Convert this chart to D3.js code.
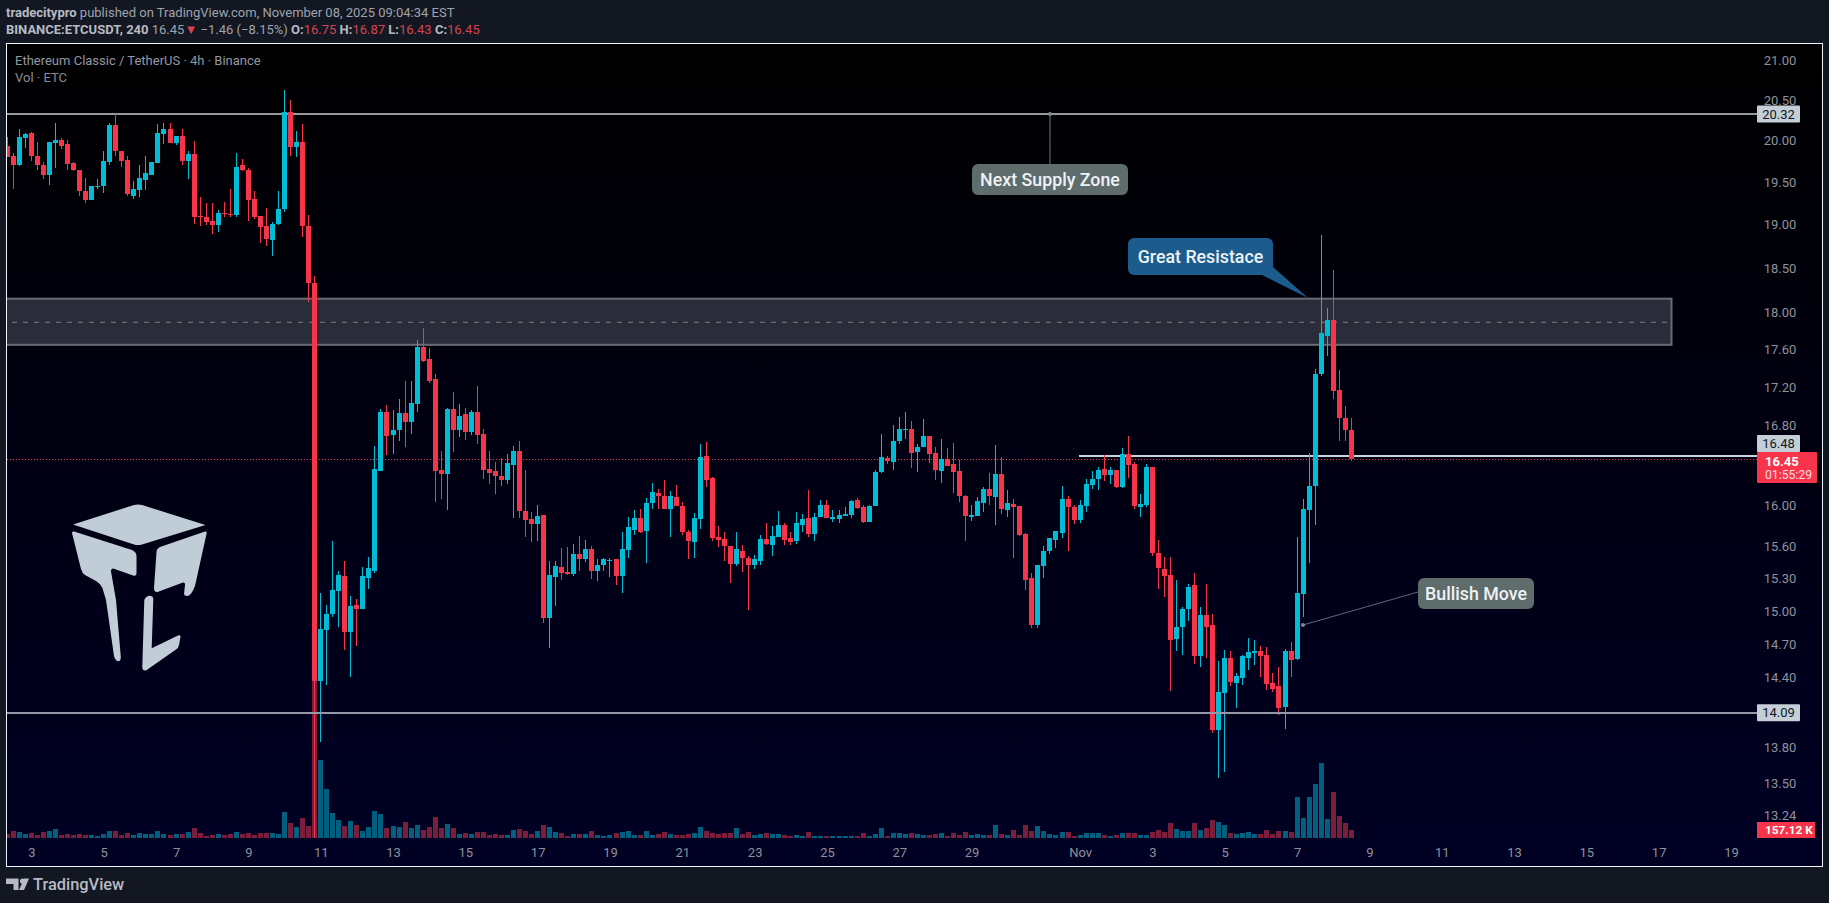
<!DOCTYPE html>
<html>
<head>
<meta charset="utf-8">
<title>BINANCE:ETCUSDT 240</title>
<script src="https://cdn.jsdelivr.net/npm/d3@7"></script>
<style>
html, body { margin: 0; padding: 0; background: #131722; overflow: hidden; }
svg { display: block; font-family: Roboto, sans-serif; }
</style>
</head>
<body>
<svg id="chart" width="1829" height="903"></svg>
<script>
// 4h bars, first one on Oct 2 08:00 UTC
var firstBar = Date.UTC(2025, 9, 2, 8);
var barStep = 4 * 3600 * 1000;

var opens = [
19.93,19.80,19.70,20.02,20.09,19.81,19.70,19.57,19.96,20.00,
19.95,19.72,19.64,19.38,19.28,19.44,19.44,19.73,20.18,19.87,
19.76,19.33,19.40,19.52,19.58,19.72,20.07,20.13,19.96,20.05,
19.75,19.83,19.09,19.08,19.03,18.99,19.13,19.12,19.10,19.69,
19.64,19.29,19.09,18.97,18.81,19.00,19.17,20.34,19.91,19.98,
18.98,18.33,14.37,14.82,14.97,15.18,15.32,14.80,15.05,15.01,
15.30,15.37,16.33,16.93,16.70,16.75,16.92,16.83,17.02,17.62,
17.49,17.28,16.34,16.30,16.97,16.75,16.91,16.73,16.93,16.71,
16.35,16.33,16.28,16.24,16.39,16.54,15.94,15.86,15.81,15.90,
14.93,15.31,15.40,15.36,15.34,15.53,15.48,15.57,15.37,15.42,
15.46,15.48,15.32,15.56,15.76,15.87,15.75,16.02,16.12,16.09,
15.96,16.08,15.99,15.74,15.64,15.86,16.48,16.26,15.69,15.67,
15.60,15.43,15.55,15.49,15.42,15.46,15.67,15.61,15.69,15.80,
15.68,15.65,15.80,15.87,15.72,15.88,16.00,15.86,15.86,15.89,
15.90,16.05,15.98,15.83,15.99,16.32,16.46,16.42,16.64,16.75,
16.76,16.53,16.58,16.69,16.52,16.33,16.45,16.40,16.33,16.09,
15.88,15.89,16.02,16.16,16.08,16.30,15.95,16.01,15.99,15.72,
15.30,14.87,15.41,15.55,15.66,15.73,16.06,15.98,15.85,15.99,
16.20,16.25,16.35,16.29,16.34,16.18,16.51,16.40,15.98,16.00,
16.37,15.54,15.38,15.33,14.74,14.85,15.01,15.23,14.59,14.96,
14.87,13.94,14.26,14.57,14.35,14.39,14.57,14.61,14.63,14.60,
14.35,14.32,14.14,14.63,14.56,15.15,15.95,16.19,17.33,17.74,
17.92,17.16,16.87,16.75];

var highs = [
20.04,19.84,20.13,20.08,20.10,19.98,19.73,19.98,20.21,20.02,
20.00,19.73,19.64,19.54,19.45,19.53,19.87,20.21,20.33,19.87,
19.81,19.51,19.69,19.80,19.73,20.19,20.21,20.21,20.05,20.13,
19.87,19.99,19.31,19.24,19.24,19.16,19.26,19.41,19.84,19.77,
19.66,19.38,19.09,19.19,19.02,19.38,20.62,20.50,20.11,20.19,
19.10,18.40,15.16,15.05,15.65,15.37,15.46,15.13,15.10,15.40,
15.50,16.59,16.97,17.01,16.96,17.07,17.26,17.26,17.70,17.83,
17.61,17.33,16.54,16.98,17.14,17.02,16.98,16.96,17.21,16.76,
16.54,16.42,16.46,16.51,16.59,16.64,16.34,15.93,16.00,15.90,
15.46,15.46,15.58,15.59,15.62,15.70,15.66,15.60,15.48,15.49,
15.49,15.48,15.74,15.88,15.95,15.96,16.07,16.22,16.16,16.24,
16.14,16.20,16.03,15.76,15.92,16.61,16.63,16.27,15.79,15.74,
15.60,15.74,15.61,15.51,15.52,15.71,15.82,15.79,15.94,15.82,
15.74,15.93,15.91,16.15,15.92,16.05,16.05,15.95,15.95,15.98,
16.05,16.07,16.00,16.00,16.34,16.71,16.49,16.80,16.88,16.93,
16.84,16.61,16.86,16.69,16.58,16.66,16.57,16.62,16.44,16.10,
16.00,16.08,16.18,16.31,16.60,16.47,16.15,16.06,15.99,15.73,
15.35,15.42,15.60,15.68,15.75,16.19,16.09,16.00,16.05,16.25,
16.33,16.37,16.50,16.37,16.34,16.57,16.69,16.42,16.11,16.40,
16.37,15.66,15.50,15.50,15.28,15.03,15.24,15.35,15.03,15.24,
14.97,14.54,14.64,14.63,14.44,14.60,14.75,14.73,14.68,14.67,
14.44,14.49,14.65,14.71,15.69,16.06,16.52,17.39,18.87,18.05,
18.47,17.37,17.00,16.87];

var lows = [
19.79,19.41,19.68,19.90,19.74,19.63,19.53,19.46,19.66,19.89,
19.64,19.62,19.33,19.24,19.28,19.41,19.36,19.70,19.81,19.67,
19.33,19.29,19.32,19.40,19.58,19.72,19.95,19.96,19.94,19.69,
19.53,19.00,18.97,18.99,18.88,18.91,19.08,19.08,19.08,19.62,
19.03,19.06,18.78,18.74,18.63,18.99,19.14,19.81,19.79,18.85,
18.11,13.05,13.84,14.33,14.94,14.85,14.64,14.40,14.68,15.01,
15.20,15.35,16.33,16.50,16.51,16.64,16.58,16.71,16.93,17.46,
17.24,16.03,16.06,15.95,16.53,16.68,16.65,16.70,16.61,16.25,
16.21,16.11,16.19,16.21,15.87,15.87,15.69,15.64,15.65,14.88,
14.66,15.04,15.28,15.33,15.32,15.37,15.45,15.29,15.27,15.37,
15.31,15.23,15.16,15.49,15.71,15.73,15.44,15.96,15.96,15.96,
15.69,15.99,15.71,15.48,15.49,15.77,16.18,15.65,15.59,15.46,
15.25,15.41,15.36,15.00,15.38,15.42,15.61,15.51,15.69,15.61,
15.61,15.62,15.74,15.69,15.65,15.88,15.87,15.83,15.82,15.89,
15.87,15.96,15.82,15.83,15.99,16.31,16.40,16.34,16.61,16.66,
16.36,16.32,16.58,16.41,16.24,16.22,16.38,16.12,16.03,15.65,
15.84,15.89,15.93,16.00,15.80,15.91,15.88,15.49,15.70,15.19,
14.84,14.84,15.30,15.53,15.58,15.68,15.55,15.81,15.82,15.93,
16.16,16.15,16.23,16.21,16.17,16.17,16.26,15.96,15.88,15.98,
15.51,15.20,15.12,14.28,14.63,14.60,14.90,14.52,14.49,14.57,
13.92,13.54,13.59,14.32,14.13,14.33,14.46,14.51,14.40,14.29,
14.27,14.07,13.95,14.40,14.55,14.94,15.44,15.80,17.31,17.53,
17.07,16.64,16.64,16.43];

var closes = [
19.79,19.70,20.04,20.07,19.80,19.69,19.57,19.98,20.00,19.93,
19.71,19.63,19.38,19.28,19.45,19.45,19.75,20.18,19.87,19.75,
19.35,19.41,19.54,19.60,19.73,20.08,20.13,19.96,20.05,19.75,
19.83,19.08,19.08,19.02,18.99,19.13,19.12,19.10,19.67,19.63,
19.28,19.08,18.96,18.82,19.00,19.17,20.34,19.91,19.98,18.97,
18.32,14.37,14.83,14.97,15.19,15.33,14.80,15.04,15.01,15.32,
15.39,16.35,16.93,16.69,16.75,16.92,16.83,17.03,17.62,17.47,
17.26,16.33,16.30,16.97,16.75,16.89,16.73,16.93,16.70,16.34,
16.31,16.28,16.24,16.41,16.54,15.94,15.85,15.81,15.89,14.93,
15.33,15.41,15.35,15.34,15.53,15.48,15.57,15.37,15.42,15.48,
15.47,15.32,15.57,15.78,15.87,15.74,16.02,16.13,16.09,15.96,
16.09,15.99,15.74,15.65,15.87,16.47,16.24,15.68,15.66,15.60,
15.43,15.57,15.49,15.42,15.48,15.67,15.62,15.70,15.80,15.66,
15.64,15.82,15.86,15.72,15.88,16.00,15.87,15.88,15.90,15.91,
16.04,15.97,15.83,15.99,16.32,16.47,16.43,16.64,16.76,16.76,
16.52,16.58,16.69,16.51,16.34,16.45,16.38,16.32,16.09,15.89,
15.90,16.04,16.16,16.09,16.30,15.96,16.02,15.98,15.71,15.28,
14.87,15.42,15.55,15.68,15.75,16.06,15.98,15.85,16.00,16.21,
16.25,16.34,16.29,16.34,16.18,16.51,16.39,15.99,16.01,16.37,
15.54,15.39,15.32,14.73,14.85,15.01,15.22,14.59,14.96,14.85,
13.94,14.27,14.57,14.36,14.41,14.59,14.62,14.63,14.59,14.34,
14.30,14.13,14.63,14.55,15.16,15.96,16.19,17.33,17.77,17.92,
17.15,16.87,16.75,16.45];

// volume in thousands of ETC
var volumes = [
79,137,118,79,98,59,118,137,177,59,
79,59,79,59,59,39,79,137,137,59,
98,59,98,79,79,137,79,59,79,79,
118,196,98,39,59,79,59,79,118,79,
98,59,98,98,98,79,511,295,216,393,
236,3142,1532,962,491,354,236,334,255,137,
216,530,471,196,236,216,314,196,255,157,
216,412,196,275,196,79,98,79,118,118,
59,79,59,59,157,177,137,79,137,255,
216,118,98,39,79,79,79,137,59,39,
59,98,118,137,59,59,137,59,79,118,
79,59,59,79,98,216,137,98,79,98,
98,196,79,118,59,79,98,79,79,59,
39,59,39,118,39,39,39,39,39,39,
39,39,98,39,79,196,39,98,98,79,
98,79,59,59,79,98,39,98,59,118,
59,79,59,59,255,79,59,157,59,255,
137,236,137,79,59,118,118,39,59,98,
98,98,59,39,59,98,98,98,59,59,
118,157,118,295,177,137,137,295,157,196,
354,314,255,98,79,98,118,79,79,157,
79,137,137,118,805,393,805,1061,1473,373,
903,432,295,157.12];

var priceTicks = [21, 20.5, 20, 19.5, 19, 18.5, 18, 17.6, 17.2, 16.8, 16, 15.6, 15.3, 15, 14.7, 14.4, 13.8, 13.5, 13.24];
var octDays = [3, 5, 7, 9, 11, 13, 15, 17, 19, 21, 23, 25, 27, 29];
var novDays = [1, 3, 5, 7, 9, 11, 13, 15, 17, 19];

var levelTop = 20.32, levelMid = 16.48, levelLow = 14.09, lastPrice = 16.45;
var zoneHigh = 18.15, zoneCentre = 17.89, zoneLow = 17.645;

var UP = "#00bcd4", DOWN = "#f7344a", UP_VOL = "#01607f", DOWN_VOL = "#7c1d3b";
var TICK = "#8f929a", TAG = "#c3ced6", PANEL = "#131722";

var svg = d3.select("#chart");

var x = d3.scaleUtc()
    .domain([new Date(Date.UTC(2025, 9, 3)), new Date(Date.UTC(2025, 10, 8, 12))])
    .range([31.4, 1351.3]);
// the price pane is logarithmic
var y = d3.scaleLog().domain([levelTop, levelLow]).range([114, 712.7]);
var yVol = d3.scaleLinear().domain([0, 157.12]).range([838, 830]);

var bars = opens.map(function (o, i) {
    return {
        t: new Date(firstBar + i * barStep),
        o: o, h: highs[i], l: lows[i], c: closes[i], v: volumes[i],
        up: closes[i] >= o
    };
});

// background
var defs = svg.append("defs");
var grad = defs.append("linearGradient").attr("id", "paneBg").attr("x1", 0).attr("y1", 0).attr("x2", 0).attr("y2", 1);
grad.append("stop").attr("offset", "0").attr("stop-color", "#000000");
grad.append("stop").attr("offset", "1").attr("stop-color", "#000024");
defs.append("clipPath").attr("id", "paneClip").append("rect")
    .attr("x", 7).attr("y", 44).attr("width", 1750).attr("height", 794);

svg.append("rect").attr("width", 1829).attr("height", 903).attr("fill", PANEL);
svg.append("rect").attr("x", 6.5).attr("y", 43.5).attr("width", 1816).attr("height", 823)
    .attr("fill", "url(#paneBg)").attr("stroke", "#f0f3fa").attr("stroke-width", 1);

var pane = svg.append("g").attr("clip-path", "url(#paneClip)");

// supply zone
pane.append("rect").attr("x", 6).attr("width", 1665.5)
    .attr("y", y(zoneHigh)).attr("height", y(zoneLow) - y(zoneHigh))
    .attr("fill", "#2a2d39").attr("stroke", "#696c74").attr("stroke-width", 2);
pane.append("line").attr("x1", 12).attr("x2", 1670).attr("y1", y(zoneCentre)).attr("y2", y(zoneCentre))
    .attr("stroke", "#7d8087").attr("stroke-width", 1).attr("stroke-dasharray", "5 6");

function level(price, x1, colour) {
    var py = Math.round(y(price));
    return pane.append("line").attr("x1", x1).attr("x2", 1757)
        .attr("y1", py).attr("y2", py)
        .attr("stroke", colour).attr("stroke-width", 2);
}
level(levelTop, 7, "#969b9f");
level(levelMid, 1079, "#c8d2da");

pane.append("line").attr("x1", 7).attr("x2", 1757)
    .attr("y1", Math.round(y(lastPrice)) + 0.5).attr("y2", Math.round(y(lastPrice)) + 0.5)
    .attr("stroke", DOWN).attr("stroke-width", 1).attr("stroke-dasharray", "1 2");

// volume sits under the candles
pane.append("g").selectAll("rect").data(bars).join("rect")
    .attr("x", function (d) { return Math.round(x(d.t) - 2.5); })
    .attr("width", 5)
    .attr("y", function (d) { return Math.round(yVol(d.v)); })
    .attr("height", function (d) { return 838 - Math.round(yVol(d.v)); })
    .attr("fill", function (d) { return d.up ? UP_VOL : DOWN_VOL; })
    .attr("shape-rendering", "crispEdges");

var candles = pane.append("g").selectAll("g").data(bars).join("g")
    .attr("fill", function (d) { return d.up ? UP : DOWN; })
    .attr("shape-rendering", "crispEdges");
candles.append("rect")
    .attr("x", function (d) { return Math.round(x(d.t) - 0.5); })
    .attr("width", 1)
    .attr("y", function (d) { return Math.round(y(d.h)); })
    .attr("height", function (d) { return Math.max(1, Math.round(y(d.l)) - Math.round(y(d.h))); });
candles.append("rect")
    .attr("x", function (d) { return Math.round(x(d.t) - 2.5); })
    .attr("width", 5)
    .attr("y", function (d) { return Math.round(y(Math.max(d.o, d.c))); })
    .attr("height", function (d) { return Math.max(1, Math.round(y(Math.min(d.o, d.c))) - Math.round(y(Math.max(d.o, d.c)))); });

level(levelLow, 7, "#9598a6");

// logo
var logo = svg.append("g").attr("fill", "#c0cdd6");
[
 "M73 524.5L134 505Q138 503.8 142 505L205.5 525L142 544.5Q138 545.5 134 544.5Z",
 "M72 533Q72 531 74 531.5L132 550Q136.5 552 136.5 556L136.5 573Q136.5 576.5 133 575.5L114 568.7Q111 568 111 571.5L116 600L120.8 657Q121 662 117 661Q115 660 114 656L106 600L103 590Q102 585 96 581L85 575Q82 573 81 569Z",
 "M206.7 533Q206.7 531 205 531.5L160 547Q156.7 548.5 156.5 552L154 588Q154 592.5 157.5 592L183 582.5Q185.5 582 185 585L184 594Q184.5 596.5 188 596Q192 594 195 586Z",
 "M144.3 600Q145 597 149 595.7Q153 595.5 153.3 599L151.7 648.3L178 635.5Q181 634.5 180.5 637L179 645Q178.5 648 176 649.5L146 670.5Q142.3 671 142.3 667Z"
].forEach(function (p) { logo.append("path").attr("d", p); });

// annotations
function note(left, top, w, h, fill, label) {
    svg.append("rect").attr("x", left).attr("y", top).attr("width", w).attr("height", h).attr("rx", 6)
        .attr("fill", fill);
    svg.append("text").attr("x", left + w / 2).attr("y", top + h / 2).attr("dy", ".36em")
        .attr("text-anchor", "middle").attr("fill", "#eef2f5")
        .attr("font-size", 17.8).attr("font-weight", 500).text(label);
}
svg.append("line").attr("x1", 1050).attr("x2", 1050).attr("y1", y(levelTop)).attr("y2", 165)
    .attr("stroke", "#66788c").attr("stroke-width", 1);
svg.append("circle").attr("cx", 1050).attr("cy", y(levelTop)).attr("r", 2).attr("fill", "#7f8c98");
note(972, 164, 156, 31, "#5f6c6c", "Next Supply Zone");

svg.append("path").attr("d", "M1262 275L1273 267L1308 298Z").attr("fill", "#1c5c8c");
note(1128, 238, 145, 37, "#1c5c8c", "Great Resistace");

svg.append("line").attr("x1", 1303).attr("y1", 625).attr("x2", 1418).attr("y2", 592)
    .attr("stroke", "#5d6a7c").attr("stroke-width", 1);
svg.append("circle").attr("cx", 1303).attr("cy", 625).attr("r", 2).attr("fill", "#7f8c98");
note(1418, 578, 116, 31, "#5f6c6c", "Bullish Move");

// axes
var xTicks = octDays.map(function (d) { return new Date(Date.UTC(2025, 9, d)); })
    .concat(novDays.map(function (d) { return new Date(Date.UTC(2025, 10, d)); }));
var xAxis = d3.axisBottom(x).tickValues(xTicks).tickSize(0)
    .tickFormat(function (d) { return d.getUTCDate() === 1 ? "Nov" : String(d.getUTCDate()); });
var xg = svg.append("g").attr("transform", "translate(0,852)").call(xAxis);
xg.select(".domain").remove();
xg.selectAll("text").attr("y", 0).attr("dy", ".36em").attr("fill", TICK).attr("font-size", 13)
    .attr("font-family", "Roboto, sans-serif");

var yAxis = d3.axisRight(y).tickValues(priceTicks).tickSize(0).tickFormat(d3.format(".2f"));
var yg = svg.append("g").attr("transform", "translate(1780,0)").call(yAxis);
yg.select(".domain").remove();
yg.selectAll("text").attr("x", 0).attr("dy", ".36em").attr("text-anchor", "middle")
    .attr("fill", TICK).attr("font-size", 13).attr("font-family", "Roboto, sans-serif");

// price tags
function tag(cy, label) {
    svg.append("rect").attr("x", 1757).attr("y", cy - 8.5).attr("width", 43).attr("height", 17).attr("rx", 1)
        .attr("fill", TAG);
    svg.append("text").attr("x", 1778.5).attr("y", cy).attr("dy", ".36em").attr("text-anchor", "middle")
        .attr("fill", PANEL).attr("font-size", 13).text(label);
}
tag(y(levelTop), levelTop.toFixed(2));
tag(443.5, levelMid.toFixed(2));   // pushed up by the last price tag
tag(y(levelLow), levelLow.toFixed(2));

svg.append("rect").attr("x", 1757).attr("y", 452).attr("width", 60).attr("height", 31).attr("rx", 1).attr("fill", DOWN);
svg.append("text").attr("x", 1765).attr("y", 461).attr("dy", ".36em").attr("fill", "#ffffff")
    .attr("font-size", 13).attr("font-weight", 700).text(lastPrice.toFixed(2));
svg.append("text").attr("x", 1765).attr("y", 475).attr("dy", ".36em").attr("fill", "#ffdfe3")
    .attr("font-size", 12.2).text("01:55:29");

svg.append("rect").attr("x", 1757).attr("y", 822).attr("width", 58).attr("height", 16).attr("fill", DOWN);
svg.append("text").attr("x", 1765).attr("y", 830).attr("dy", ".36em").attr("fill", "#ffffff")
    .attr("font-size", 11.8).attr("font-weight", 700).text("157.12 K");

// legend inside the pane
svg.append("text").attr("x", 15).attr("y", 60.5).attr("dy", ".36em").attr("fill", "#9598a1").attr("font-size", 13)
    .text("Ethereum Classic / TetherUS · 4h · Binance");
svg.append("text").attr("x", 15).attr("y", 77.5).attr("dy", ".36em").attr("fill", "#8a8d96").attr("font-size", 13)
    .text("Vol · ETC");

// header
var head1 = svg.append("text").attr("x", 6).attr("y", 12.5).attr("dy", ".36em").attr("font-size", 13).attr("fill", "#9fa3ac");
head1.append("tspan").attr("font-weight", 700).attr("fill", "#b8bbc3").text("tradecitypro");
head1.append("tspan").text(" published on TradingView.com, November 08, 2025 09:04:34 EST");

var head2 = svg.append("text").attr("x", 6).attr("y", 29.5).attr("dy", ".36em").attr("font-size", 13).attr("fill", "#9fa3ac");
head2.append("tspan").attr("font-weight", 700).attr("fill", "#b8bbc3").text("BINANCE:ETCUSDT, 240");
head2.append("tspan").text(" 16.45");
head2.append("tspan").attr("fill", "#d9434f").text("▼");
head2.append("tspan").text(" −1.46 (−8.15%) ");
[["O:", opens[223]], ["H:", highs[223]], ["L:", lows[223]], ["C:", closes[223]]].forEach(function (p) {
    head2.append("tspan").attr("font-weight", 700).attr("fill", "#b8bbc3").text(p[0]);
    head2.append("tspan").attr("fill", "#d9434f").text(p[1].toFixed(2) + " ");
});

// TradingView mark
var mark = svg.append("g").attr("fill", "#b8bbc3");
mark.append("path").attr("d", "M6 878.5H18.5V890H13.5V884H6Z");
mark.append("circle").attr("cx", 22.5).attr("cy", 881).attr("r", 2.6);
mark.append("path").attr("d", "M19 890L24 878.5H29L24 890Z");
svg.append("text").attr("x", 33).attr("y", 884).attr("dy", ".36em").attr("fill", "#b8bbc3")
    .attr("font-size", 16.4).attr("font-weight", 500).text("TradingView");
</script>
</body>
</html>
